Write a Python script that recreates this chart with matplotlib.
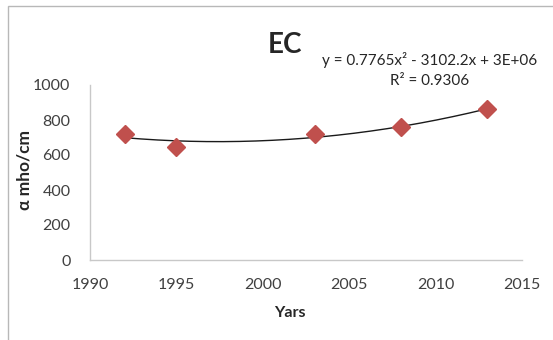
import numpy as np
import matplotlib
matplotlib.use("Agg")
import matplotlib.pyplot as plt
from matplotlib.patches import Rectangle

years = [1992, 1995, 2003, 2008, 2013]
ec = [720, 647, 718, 762, 861]
xticks = [1990, 1995, 2000, 2005, 2010, 2015]
yticks = [0, 200, 400, 600, 800, 1000]

plt.rcParams['font.family'] = ['Lato', 'DejaVu Sans']

fig = plt.figure(figsize=(5.53, 3.40), dpi=100)
fig.patch.set_facecolor('white')
fig.patches.append(Rectangle((8/553, -0.1), 1.2, 1 - 6/340 + 0.1, transform=fig.transFigure,
                             fill=False, edgecolor='#b8b8b8', linewidth=1.0))

ax = fig.add_axes([90/553, 1 - 260/340, (522-90)/553, (260-85)/340])

coef = np.polyfit(years, ec, 2)
xs = np.linspace(min(years), max(years), 200)
ax.plot(xs, np.polyval(coef, xs), color='#1a1a1a', linewidth=1.0, zorder=2)
ax.plot(years, ec, linestyle='none', marker='D', markersize=9,
        color='#C0504D', markeredgecolor='#C0504D', zorder=3)

ax.set_xlim(1990, 2015)
ax.set_ylim(0, 1000)
ax.set_xticks(xticks)
ax.set_yticks(yticks)
ax.tick_params(axis='x', length=0, labelsize=11.5, colors='#404040', pad=13)
ax.tick_params(axis='y', length=0, labelsize=11.5, colors='#404040', pad=14)
for s in ['top', 'right']:
    ax.spines[s].set_visible(False)
for s in ['left', 'bottom']:
    ax.spines[s].set_color('#c8c8c8')
    ax.spines[s].set_linewidth(1.0)

fig.text(290/553, 1 - 313/340, 'Yars', fontsize=11.5, fontweight='bold', color='#262626',
         ha='center', va='center')
fig.text(25/553, 1 - 170/340, 'α mho/cm', fontsize=12.5, fontweight='bold', color='#262626',
         ha='center', va='center', rotation=90)

fig.text(285/553, 1 - 45/340, 'EC', fontsize=20, fontweight='bold', color='#262626',
         ha='center', va='center')
fig.text(430/553, 1 - 60/340, 'y = 0.7765x² - 3102.2x + 3E+06', fontsize=11,
         color='#262626', ha='center', va='center')
fig.text(430/553, 1 - 81/340, 'R² = 0.9306', fontsize=11,
         color='#262626', ha='center', va='center')

fig.savefig('out.png', dpi=100)
